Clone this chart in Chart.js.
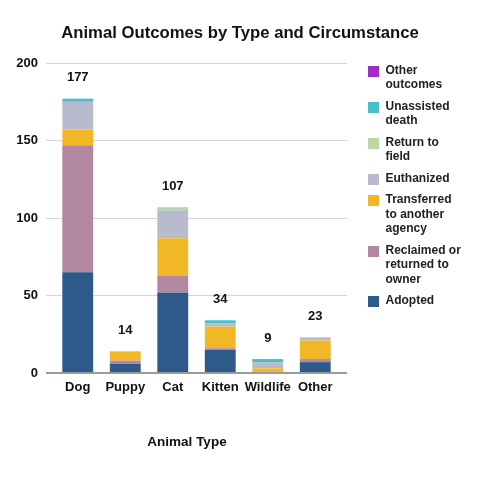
<!DOCTYPE html>
<html>
<head>
<meta charset="utf-8">
<script src="https://cdn.jsdelivr.net/npm/chart.js@4.4.1/dist/chart.umd.min.js"></script>
<style>
  html, body { margin: 0; padding: 0; background: #fff; }
  #wrap { position: relative; width: 480px; height: 480px; }
  #legend {
    position: absolute; left: 368px; top: 62.75px; width: 110px;
    font: bold 12px "Liberation Sans", Arial, sans-serif; color: #222;
    line-height: 14.5px;
  }
  #legend .item { display: flex; align-items: flex-start; margin-bottom: 7px; }
  #legend .box { width: 11px; height: 11px; margin-top: 3px; margin-right: 6.5px; flex: none; }
</style>
</head>
<body>
<div id="wrap">
  <canvas id="chart" width="480" height="480"></canvas>
  <div id="legend"></div>
</div>
<script>
const categories = ['Dog', 'Puppy', 'Cat', 'Kitten', 'Wildlife', 'Other'];

// stacked from the bottom up
const adopted       = [65, 6, 52, 15, 0, 7];
const reclaimed     = [82, 2, 11, 1, 0, 2];
const transferred   = [10, 6, 24, 14, 3, 12];
const euthanized    = [18, 0, 18, 2, 4, 2];
const returnToField = [0, 0, 2, 0, 0, 0];
const unassisted    = [2, 0, 0, 2, 2, 0];
const otherOutcomes = [0, 0, 0, 0, 0, 0];

const seriesNames = [
  ['Adopted'],
  ['Reclaimed or', 'returned to', 'owner'],
  ['Transferred', 'to another', 'agency'],
  ['Euthanized'],
  ['Return to', 'field'],
  ['Unassisted', 'death'],
  ['Other', 'outcomes']
];
const seriesValues = [adopted, reclaimed, transferred, euthanized, returnToField, unassisted, otherOutcomes];
const seriesColors = ['#2e5a8a', '#b3879f', '#f2b726', '#b8bacd', '#b6d9a6', '#45bfc8', '#a32cc4'];

const yTicks = [0, 50, 100, 150, 200];

const FONT = '"Liberation Sans", Arial, sans-serif';

const datasets = seriesValues.map((vals, i) => ({
  label: seriesNames[i].join(' '),
  data: vals,
  backgroundColor: seriesColors[i],
  borderWidth: 0,
  categoryPercentage: 1,
  barPercentage: 0.65
}));

// totals above each stack + the x axis title (sits a bit left of the plot centre)
const totalsPlugin = {
  id: 'totals',
  afterDatasetsDraw(chart) {
    const { ctx, scales } = chart;
    ctx.save();
    ctx.font = 'bold 13px ' + FONT;
    ctx.fillStyle = '#111';
    ctx.textAlign = 'center';
    ctx.textBaseline = 'middle';
    categories.forEach((c, i) => {
      const total = seriesValues.reduce((s, arr) => s + arr[i], 0);
      const x = scales.x.getPixelForValue(i);
      const y = scales.y.getPixelForValue(total) - 21;
      ctx.fillText(String(total), x, y);
    });
    ctx.font = 'bold 13.5px ' + FONT;
    ctx.fillText('Animal Type', scales.x.left + 133, scales.x.top + 69);
    ctx.restore();
  }
};

const gridColor = ctx => (ctx.tick && ctx.tick.value === 0) ? '#9a9a9a' : '#d6d6d6';
const gridWidth = ctx => (ctx.tick && ctx.tick.value === 0) ? 2 : 1;

const chart = new Chart(document.getElementById('chart'), {
  type: 'bar',
  data: { labels: categories, datasets },
  options: {
    responsive: false,
    animation: false,
    layout: { padding: { left: 10, right: 10, top: 0, bottom: 0 } },
    plugins: {
      title: {
        display: true,
        text: 'Animal Outcomes by Type and Circumstance',
        color: '#111',
        font: { family: FONT, size: 16.7, weight: 'bold' },
        padding: { top: 23, bottom: 20 }
      },
      legend: { display: false },
      tooltip: { enabled: false }
    },
    scales: {
      x: {
        stacked: true,
        grid: { display: false, drawTicks: false },
        border: { display: false },
        afterFit: scale => { scale.height = 107; },
        ticks: { color: '#111', padding: 7, maxRotation: 0, autoSkip: false, font: { family: FONT, size: 13, weight: 'bold' } }
      },
      y: {
        stacked: true,
        min: 0,
        max: 200,
        afterBuildTicks: scale => { scale.ticks = yTicks.map(v => ({ value: v })); },
        afterFit: scale => { scale.width = 44; },
        grid: { color: gridColor, lineWidth: gridWidth, tickLength: 8 },
        border: { display: false },
        ticks: { color: '#111', padding: 8, font: { family: FONT, size: 13, weight: 'bold' } }
      },
      y2: {
        position: 'right',
        min: 0,
        max: 200,
        afterBuildTicks: scale => { scale.ticks = yTicks.map(v => ({ value: v })); },
        afterFit: scale => { scale.width = 131; },
        grid: { color: gridColor, lineWidth: gridWidth, tickLength: 8, drawOnChartArea: false },
        border: { display: false },
        ticks: { display: false }
      }
    }
  },
  plugins: [totalsPlugin]
});

// legend, top item is the last series
const legendEl = document.getElementById('legend');
chart.data.datasets.slice().reverse().forEach((ds, k) => {
  const i = chart.data.datasets.length - 1 - k;
  const item = document.createElement('div');
  item.className = 'item';
  item.innerHTML = `<span class="box" style="background:${seriesColors[i]}"></span><span>${seriesNames[i].join('<br>')}</span>`;
  legendEl.appendChild(item);
});
</script>
</body>
</html>
